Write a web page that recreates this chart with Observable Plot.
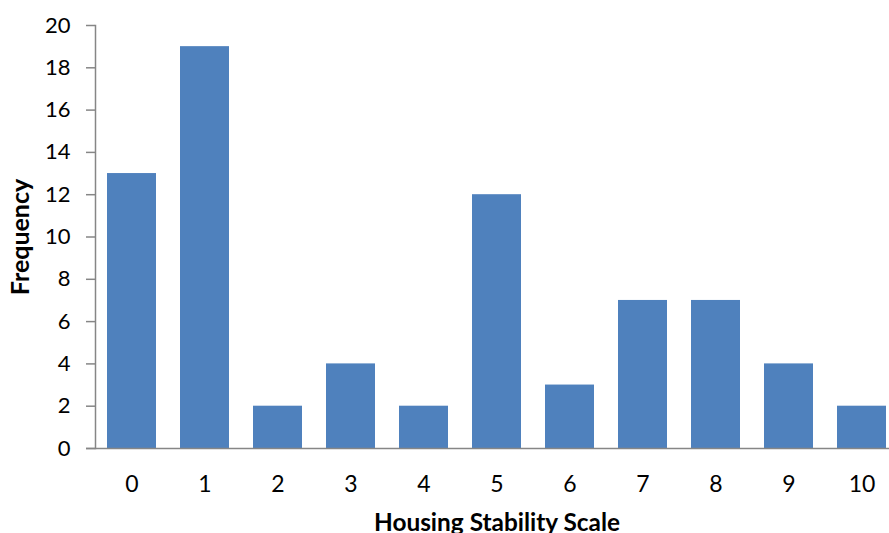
<!DOCTYPE html>
<html>
<head>
<meta charset="utf-8">
<script src="https://cdn.jsdelivr.net/npm/d3@7"></script>
<script src="https://cdn.jsdelivr.net/npm/@observablehq/plot@0.6"></script>
<style>
  html, body { margin: 0; padding: 0; background: #fff; overflow: hidden; }
</style>
</head>
<body>
<div id="chart"></div>
<script>
const categories = ["0", "1", "2", "3", "4", "5", "6", "7", "8", "9", "10"];
const frequencies = [13, 19, 2, 4, 2, 12, 3, 7, 7, 4, 2];
const yTicks = [0, 2, 4, 6, 8, 10, 12, 14, 16, 18, 20];
const xTitle = "Housing Stability Scale";
const yTitle = "Frequency";

const data = categories.map((c, i) => ({category: c, value: frequencies[i]}));
const axisColor = "#868686";
const font = "Lato, 'Open Sans', sans-serif";

const chart = Plot.plot({
  width: 889,
  height: 533,
  marginLeft: 95,
  marginRight: -9,
  marginTop: 25,
  marginBottom: 85,
  style: {fontFamily: font, background: "#fff", overflow: "visible"},
  x: {type: "band", domain: categories, paddingInner: 24 / 73, paddingOuter: 12 / 73, axis: null},
  y: {domain: [0, 20], axis: null},
  marks: [
    Plot.barY(data, {x: "category", y: "value", fill: "#4F81BD"}),
    Plot.frame({anchor: "left", stroke: axisColor, strokeWidth: 1.5}),
    Plot.ruleY([0], {stroke: axisColor, strokeWidth: 1.5, insetLeft: -9}),
    Plot.axisY({ticks: yTicks, tickSize: 9, tickPadding: 16, stroke: axisColor, strokeWidth: 1.5, fill: "#000", fontSize: 22, label: null}),
    Plot.axisX({tickSize: 0, tickPadding: 27, fill: "#000", fontSize: 23, label: null}),
    Plot.text([yTitle], {frameAnchor: "left", textAnchor: "middle", lineAnchor: "middle", rotate: -90, dx: -75, fontSize: 25, fontWeight: "bold", fill: "#000"}),
    Plot.text([xTitle], {frameAnchor: "bottom", textAnchor: "middle", lineAnchor: "top", dy: 65, fontSize: 24.4, fontWeight: "bold", fill: "#000"})
  ]
});
document.getElementById("chart").appendChild(chart);
</script>
</body>
</html>
